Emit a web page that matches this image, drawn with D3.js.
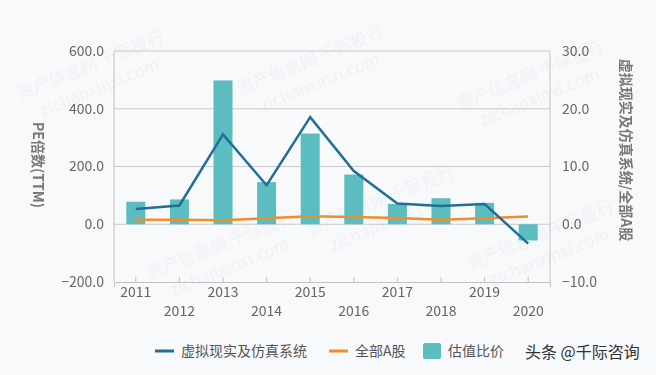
<!DOCTYPE html>
<html>
<head>
<meta charset="utf-8">
<script src="https://cdn.jsdelivr.net/npm/d3@7"></script>
<style>
  body { margin: 0; background: #f8f9fb; }
  text { font-family: "Noto Sans CJK SC", "Noto Sans", sans-serif; }
</style>
</head>
<body>
<div id="chart"></div>
<script>
// data
var years = ["2011","2012","2013","2014","2015","2016","2017","2018","2019","2020"];
var vrPE = [53, 65, 311, 135, 371, 184, 72, 63, 70, -67];      // 虚拟现实及仿真系统 (left)
var allPE = [16, 16, 14, 21, 28, 25, 22, 16, 21, 27];           // 全部A股 (left)
var ratio = [3.9, 4.3, 24.9, 7.3, 15.7, 8.6, 3.5, 4.5, 3.7, -2.8]; // 估值比价 (right)
var leftTicks = [-200, 0, 200, 400, 600];
var rightTicks = [-10, 0, 10, 20, 30];

var color = {vr: "#216f98", all: "#f08d2c", bar: "#5bbdbf"};

var W = 656, H = 375;
var m = {left: 114, right: 106, top: 51, bottom: 93};
var iw = W - m.left - m.right, ih = H - m.top - m.bottom;

var svg = d3.select("#chart").append("svg").attr("width", W).attr("height", H);
svg.append("rect").attr("width", W).attr("height", H).attr("fill", "#f8f9fb");

// faint watermarks
var wm = svg.append("g").attr("fill", "#dfe2e8").attr("opacity", 0.35).style("font-size", "17px");
[[20, 100], [150, 280], [310, 235], [240, 95], [460, 110], [470, 270]].forEach(function(p){
  var g = wm.append("g").attr("transform", "translate(" + p[0] + "," + p[1] + ") rotate(-22)");
  g.append("text").text("资产信息网 千际投行");
  g.append("text").attr("x", 15).attr("y", 24).text("zichanxinxi.com");
});

var g = svg.append("g").attr("transform", "translate(" + m.left + "," + m.top + ")");

var x = d3.scaleBand().domain(years).range([0, iw]).padding(0);
var yL = d3.scaleLinear().domain([-200, 600]).range([ih, 0]);
var yR = d3.scaleLinear().domain([-10, 30]).range([ih, 0]);

// grid
g.selectAll(".grid").data(leftTicks.filter(d => d > -200)).enter().append("line")
  .attr("x1", 0).attr("x2", iw)
  .attr("y1", d => yL(d)).attr("y2", d => yL(d))
  .attr("stroke", "#c9c9c9").attr("stroke-width", 1);

// frame lines
g.append("line").attr("x1", 0).attr("x2", 0).attr("y1", 0).attr("y2", ih).attr("stroke", "#c2c2c2");
g.append("line").attr("x1", iw).attr("x2", iw).attr("y1", 0).attr("y2", ih).attr("stroke", "#c2c2c2");

// left axis
var axL = g.append("g").call(d3.axisLeft(yL).tickValues(leftTicks).tickFormat(d3.format(".1f")).tickSize(0).tickPadding(10));
axL.select(".domain").remove();
axL.selectAll("text").attr("fill", "#666").style("font-size", "14px");

// right axis
var axR = g.append("g").attr("transform", "translate(" + iw + ",0)")
  .call(d3.axisRight(yR).tickValues(rightTicks).tickFormat(d3.format(".1f")).tickSize(0).tickPadding(12));
axR.select(".domain").remove();
axR.selectAll("text").attr("fill", "#666").style("font-size", "14px");

// bars
var bw = 19;
g.selectAll(".bar").data(ratio).enter().append("rect")
  .attr("x", (d, i) => x(years[i]) + x.bandwidth() / 2 - bw / 2)
  .attr("y", d => yR(Math.max(0, d)))
  .attr("width", bw)
  .attr("height", d => Math.abs(yR(d) - yR(0)))
  .attr("fill", color.bar);

// bottom axis
var axB = g.append("g").attr("transform", "translate(0," + ih + ")")
  .call(d3.axisBottom(x).tickSize(5).tickPadding(4));
axB.select(".domain").attr("stroke", "#c2c2c2");
axB.selectAll(".tick line").attr("stroke", "#c2c2c2").attr("y2", -5);
axB.selectAll("text").attr("fill", "#666").style("font-size", "14px")
  .attr("y", (d, i) => i % 2 ? 24 : 5);

// lines
var lineL = d3.line().x((d, i) => x(years[i]) + x.bandwidth() / 2).y(d => yL(d));
g.append("path").datum(allPE).attr("d", lineL).attr("fill", "none")
  .attr("stroke", color.all).attr("stroke-width", 2.5);
g.append("path").datum(vrPE).attr("d", lineL).attr("fill", "none")
  .attr("stroke", color.vr).attr("stroke-width", 2.5);

// axis titles
svg.append("text").attr("transform", "translate(33,165) rotate(90)")
  .attr("text-anchor", "middle").attr("fill", "#777").style("font-size", "14px").style("font-weight", "bold")
  .text("PE倍数(TTM)");
svg.append("text").attr("transform", "translate(621,150) rotate(90)")
  .attr("text-anchor", "middle").attr("fill", "#777").style("font-size", "14px").style("font-weight", "bold")
  .text("虚拟现实及仿真系统/全部A股");

// legend
var lg = svg.append("g").attr("transform", "translate(0,351)").style("font-size", "14px");
lg.append("line").attr("x1", 155).attr("x2", 174).attr("stroke", color.vr).attr("stroke-width", 3);
lg.append("text").attr("x", 181).attr("y", 5).attr("fill", "#555").text("虚拟现实及仿真系统");
lg.append("line").attr("x1", 329).attr("x2", 348).attr("stroke", color.all).attr("stroke-width", 3);
lg.append("text").attr("x", 355).attr("y", 5).attr("fill", "#555").text("全部A股");
lg.append("rect").attr("x", 423).attr("y", -8).attr("width", 18).attr("height", 16).attr("rx", 2).attr("fill", color.bar);
lg.append("text").attr("x", 448).attr("y", 5).attr("fill", "#555").text("估值比价");

svg.append("text").attr("x", 525).attr("y", 358).attr("fill", "#333").style("font-size", "16px")
  .text("头条 @千际咨询");
</script>
</body>
</html>
